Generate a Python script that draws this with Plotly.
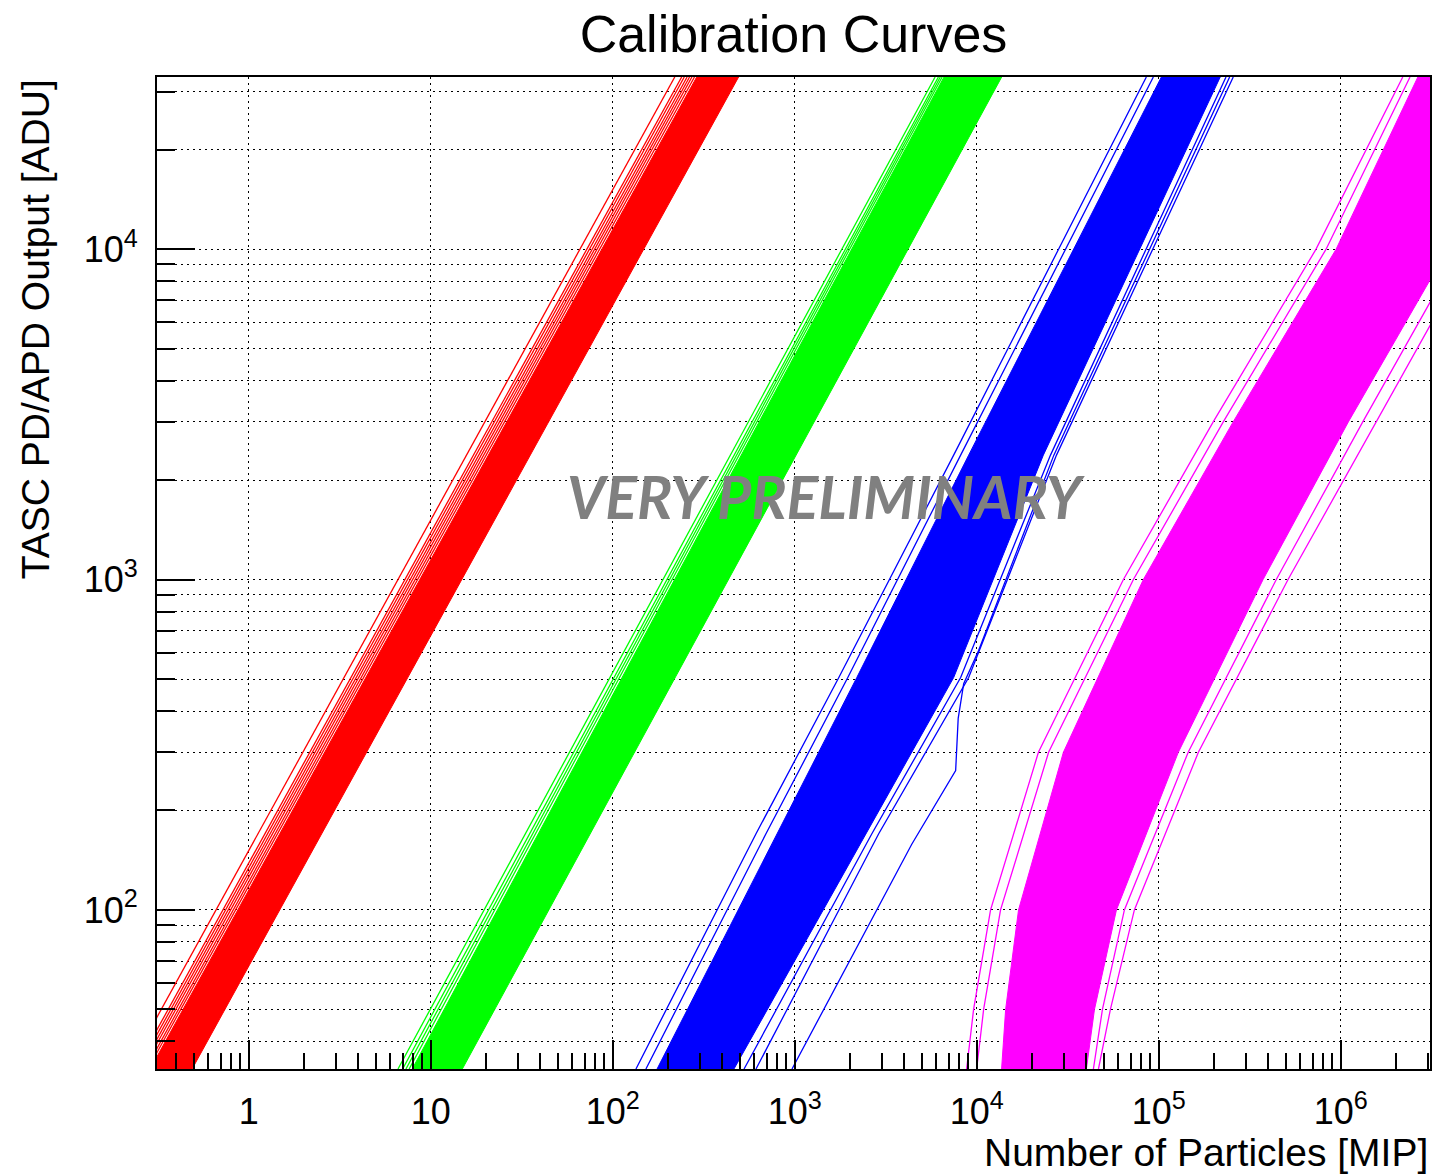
import plotly.graph_objects as go

# ---------------- data ----------------
# Each band: envelope of the dense bundle of calibration curves (MIP values at given ADU levels)
red_levels = [33, 33200]
red_left = [0.287, 289]
red_right = [0.488, 491]
# isolated red curves (MIP at ADU=33 and ADU=33200)
red_thin_lo = [0.218, 0.238, 0.246, 0.254, 0.262, 0.271, 0.279]
red_thin_hi = [219, 239, 247, 256, 264, 272, 281]

green_levels = [33, 33200]
green_left = [7.9, 6600]
green_right = [14.9, 13700]
green_thin_lo = [6.6, 7.0, 7.3, 7.6]
green_thin_hi = [5900, 6150, 6300, 6450]

blue_levels = [33, 170, 505, 2380, 33200]
blue_left = [175, 798, 2190, 9020, 103300]
blue_right = [463, 2455, 7460, 23200, 217500]
blue_thin = [
    [134, 612, 1745, 7460, 85400],
    [152, 694, 1955, 8150, 93300],
    [526, 2650, 8150, 25400, 234000],
    [612, 2890, 9020, 27400, 256400],
]
blue_kink_mip = [965, 4390, 7650, 7900, 8470, 10230, 26500, 245000]
blue_kink_adu = [33, 158, 264, 380, 484, 610, 2380, 33200]

mag_levels = [33, 50, 100, 300, 1000, 3000, 10000, 33200]
mag_left = [13680, 14400, 16950, 29900, 82200, 256000, 942000, 2.65e6]
mag_right = [40000, 44300, 58500, 128000, 374000, 1.10e6, 3.87e6, 1.21e7]
mag_thin = [
    [8790, 9600, 11900, 21800, 63900, 199000, 731000, 2.19e6],
    [9980, 10900, 13500, 24800, 72500, 226000, 830000, 2.40e6],
    [43700, 49000, 64700, 145000, 442000, 1.32e6, 4.51e6, 1.41e7],
    [46600, 54200, 73400, 165000, 513000, 1.56e6, 5.31e6, 1.66e7],
]

x_tickvals = [1, 10, 100, 1000, 1e4, 1e5, 1e6]
x_ticktext = ["1", "10", "10<sup>2</sup>", "10<sup>3</sup>", "10<sup>4</sup>",
              "10<sup>5</sup>", "10<sup>6</sup>"]
y_tickvals = [100, 1000, 10000]
y_ticktext = ["10<sup>2</sup>", "10<sup>3</sup>", "10<sup>4</sup>"]

# ---------------- figure ----------------
fig = go.Figure()


def add_band(levels, left, right, color):
    fig.add_trace(go.Scatter(
        x=list(left) + list(right)[::-1],
        y=list(levels) + list(levels)[::-1],
        mode="lines", fill="toself", fillcolor=color,
        line=dict(color=color, width=1), hoverinfo="skip", showlegend=False))


def add_lines(xs_list, ys, color, width=1.3):
    xx, yy = [], []
    for xs in xs_list:
        xx += list(xs) + [None]
        yy += list(ys) + [None]
    fig.add_trace(go.Scatter(x=xx, y=yy, mode="lines",
                             line=dict(color=color, width=width),
                             hoverinfo="skip", showlegend=False))


RED, GREEN, BLUE, MAG = "#ff0000", "#00ff00", "#0000ff", "#ff00ff"

add_band(red_levels, red_left, red_right, RED)
add_lines([[a, b] for a, b in zip(red_thin_lo, red_thin_hi)], red_levels, RED)

add_band(green_levels, green_left, green_right, GREEN)
add_lines([[a, b] for a, b in zip(green_thin_lo, green_thin_hi)], green_levels, GREEN)

add_band(blue_levels, blue_left, blue_right, BLUE)
add_lines(blue_thin, blue_levels, BLUE)
add_lines([blue_kink_mip], blue_kink_adu, BLUE)

add_band(mag_levels, mag_left, mag_right, MAG)
add_lines(mag_thin, mag_levels, MAG)

minor_x = [m * 10 ** k for k in range(-1, 7) for m in range(2, 10)]
minor_y = [m * 10 ** k for k in range(1, 5) for m in range(2, 10)]

FONT = "Liberation Sans"
GRID_DASH = "2px,4px"

fig.update_layout(
    width=1435, height=1175,
    margin=dict(l=157, r=3, t=77, b=106),
    paper_bgcolor="white", plot_bgcolor="white",
    font=dict(family=FONT, color="black"),
    title=dict(text="Calibration Curves", x=0.5, xref="paper", xanchor="center",
               y=1 - 34 / 1175, yref="container", yanchor="middle",
               font=dict(family=FONT, size=52, color="black")),
    showlegend=False,
)

fig.update_xaxes(
    type="log", range=[-0.5045, 6.49],
    showline=True, linecolor="black", linewidth=2, mirror=True,
    ticks="inside", ticklen=29, tickwidth=2, tickcolor="black",
    tickmode="array", tickvals=x_tickvals, ticktext=x_ticktext,
    tickfont=dict(family=FONT, size=36, color="black"),
    ticklabelstandoff=10,
    showgrid=True, gridcolor="black", gridwidth=1, griddash=GRID_DASH,
    zeroline=False,
    minor=dict(tickmode="array", tickvals=minor_x, ticks="inside", ticklen=16,
               tickwidth=2, tickcolor="black", showgrid=False),
)
fig.update_yaxes(
    type="log", range=[1.5185, 4.5211],
    showline=True, linecolor="black", linewidth=2, mirror=True,
    ticks="inside", ticklen=38, tickwidth=2, tickcolor="black",
    tickmode="array", tickvals=y_tickvals, ticktext=y_ticktext,
    tickfont=dict(family=FONT, size=36, color="black"),
    ticklabelstandoff=10,
    showgrid=True, gridcolor="black", gridwidth=1, griddash=GRID_DASH,
    zeroline=False,
    minor=dict(tickmode="array", tickvals=minor_y, ticks="inside", ticklen=18,
               tickwidth=2, tickcolor="black", showgrid=True,
               gridcolor="black", gridwidth=1, griddash=GRID_DASH),
)

fig.add_annotation(text="TASC PD/APD Output [ADU]", textangle=-90,
                   xref="paper", yref="paper", x=(35 - 157) / 1275, y=1,
                   xanchor="center", yanchor="top", showarrow=False,
                   font=dict(family=FONT, size=39, color="black"))
fig.add_annotation(text="Number of Particles [MIP]",
                   xref="paper", yref="paper", x=1, y=(1069 - 1152) / 992,
                   xanchor="right", yanchor="middle", showarrow=False,
                   font=dict(family=FONT, size=39, color="black"))
fig.add_annotation(text="VERY PRELIMINARY",
                   xref="paper", yref="paper", x=(828 - 157) / 1275,
                   y=(1069 - 497) / 992, xanchor="center", yanchor="middle",
                   showarrow=False,
                   font=dict(family="Lato", size=59, color="#808080",
                             weight="bold", style="italic"))

fig.write_html("out.html")
